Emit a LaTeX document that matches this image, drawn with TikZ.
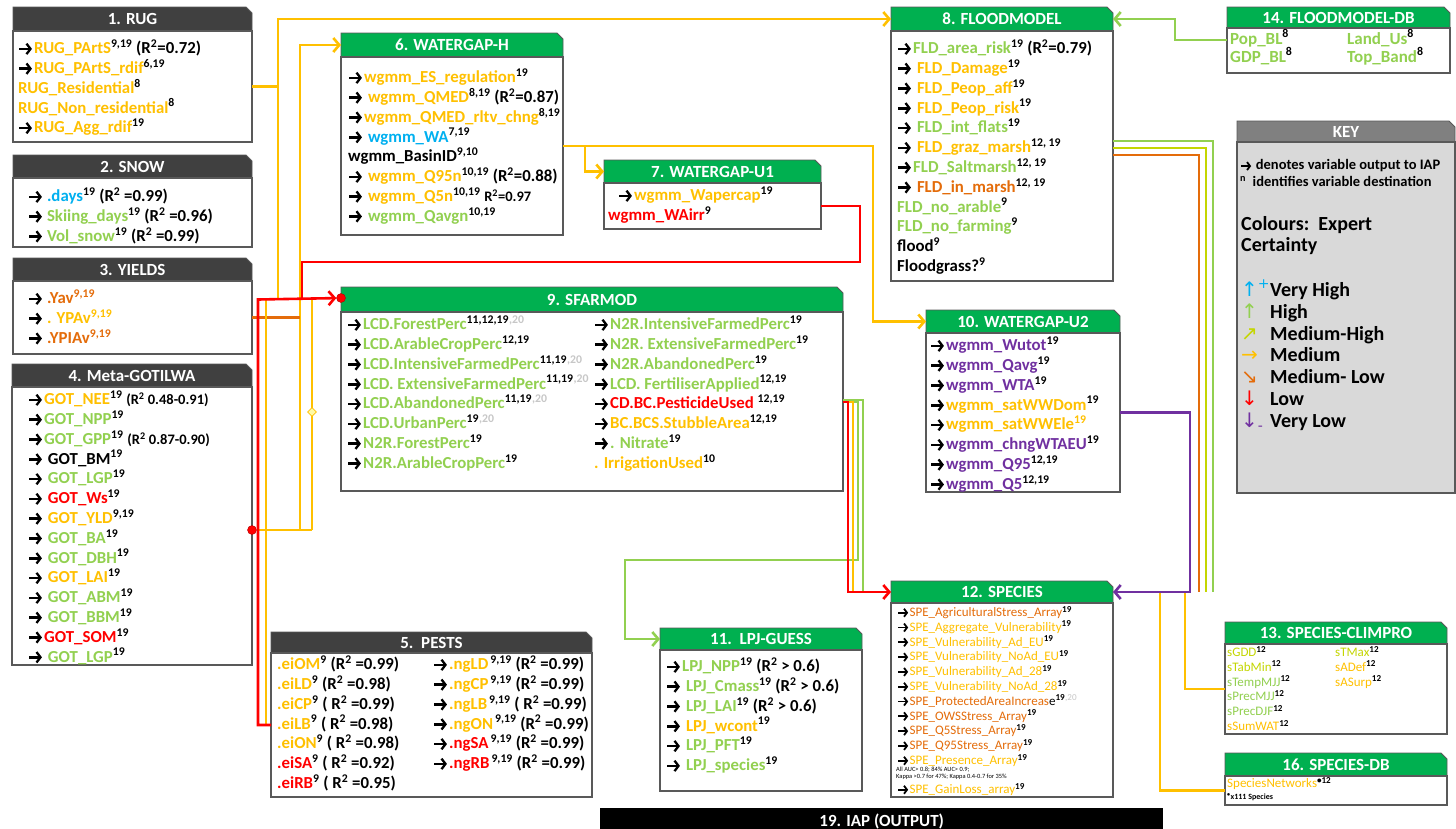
\documentclass[tikz,border=0pt]{standalone}
\usepackage{fontspec}
\setmainfont{Carlito}
\newfontfamily\symfont{DejaVu Sans}
\usetikzlibrary{arrows.meta,positioning,shapes.misc,shapes.geometric}
\definecolor{cvh}{HTML}{00B0F0}
\definecolor{chi}{HTML}{92D050}
\definecolor{cmh}{HTML}{C4D600}
\definecolor{cme}{HTML}{FFC000}
\definecolor{cml}{HTML}{E46C0A}
\definecolor{clo}{HTML}{FF0000}
\definecolor{cvl}{HTML}{7030A0}
\definecolor{ttldark}{HTML}{404040}
\definecolor{ttlgreen}{HTML}{00B050}
\definecolor{keyttl}{HTML}{808080}
\definecolor{keybg}{HTML}{D9D9D9}
\definecolor{frame}{HTML}{595959}
% bold output arrow drawn as a tiny picture
\newcommand{\ra}{\tikz[baseline=-4.8pt]{\draw[black,line width=2.5pt,
  -{Straight Barb[length=4pt,width=10.5pt,line width=2.3pt]}] (0pt,0pt) -- (12.5pt,0pt);}\hspace{1pt}}
\newcommand{\ras}{\tikz[baseline=-3.8pt]{\draw[black,line width=1.9pt,
  -{Straight Barb[length=3pt,width=8pt,line width=1.8pt]}] (0pt,0pt) -- (10pt,0pt);}\hspace{0.5pt}}
\newcommand{\sps}[1]{\textsuperscript{\color{black}#1}}
\newcommand{\spg}[1]{\textsuperscript{\color{black!22}#1}}
\newcommand{\rsq}{R\textsuperscript{2}}
\newcommand{\rsml}[1]{{\fontsize{14.5}{14}\selectfont #1}}
\newcommand{\keyarr}[2]{\makebox[29pt][l]{\symfont\mdseries\textcolor{#1}{#2}}}
\tikzset{
  ttlD/.style={chamfered rectangle,chamfered rectangle corners=north east,
               chamfered rectangle xsep=3pt,chamfered rectangle ysep=3pt,
               anchor=north west,fill=ttldark,draw=frame,line width=0.8pt,
               text=white,font=\fontsize{17}{19}\selectfont\bfseries,
               inner sep=0pt,outer sep=0pt},
  ttlG/.style={ttlD,fill=ttlgreen},
  bodyb/.style={rectangle,anchor=north west,draw=frame,line width=1.2pt,
                fill=white,inner sep=0pt,outer sep=0pt},
  txt/.style={anchor=north west,align=left,inner sep=0pt,
              font=\fontsize{16.8}{19.8}\selectfont\bfseries},
  txts/.style={txt,font=\fontsize{13}{14.8}\selectfont},
  lnk/.style={line width=2.6pt},
  lnkt/.style={line width=1.2pt},
  arr/.style={-{Straight Barb[length=6pt,width=14pt]}},
  jdot/.style={circle,fill=clo,draw=clo!70!black,minimum size=9pt,inner sep=0pt},
}
\begin{document}
\begin{tikzpicture}[x=1pt,y=-1pt]
\useasboundingbox (0,0) rectangle (1456,828);

% ---- model boxes ----
% 1. RUG
\node[ttlD,minimum width=239,minimum height=24] (rug-t) at (13,7) {1. RUG};
\node[bodyb,minimum width=239,minimum height=111] (rug) at (13,31) {};
\node[txt] (rug-v) at (18,39.5) {\ra\textcolor{cme}{RUG\_PArtS}\sps{9,19} (\rsq=0.72)\\
  \ra\textcolor{cme}{RUG\_PArtS\_rdif}\sps{6,19}\\
  \textcolor{cme}{RUG\_Residential}\sps{8}\\
  \textcolor{cme}{RUG\_Non\_residential}\sps{8}\\
  \ra\textcolor{cme}{RUG\_Agg\_rdif}\sps{19}};

% 2. SNOW
\node[ttlD,minimum width=239,minimum height=23] (snow-t) at (13,155) {2. SNOW};
\node[bodyb,minimum width=239,minimum height=69] (snow) at (13,178) {};
\node[txt] (snow-v) at (28,187.5) {\ra\,\textcolor{cvh}{.days}\sps{19} (\rsq{} =0.99)\\
  \ra\,\textcolor{chi}{Skiing\_days}\sps{19} (\rsq{} =0.96)\\
  \ra\,\textcolor{chi}{Vol\_snow}\sps{19} (\rsq{} =0.99)};

% 3. YIELDS
\node[ttlD,minimum width=239,minimum height=23] (yld-t) at (13,258) {3. YIELDS};
\node[bodyb,minimum width=239,minimum height=73] (yld) at (13,281) {};
\node[txt] (yld-v) at (28,289.5) {\ra\,\textcolor{cml}{.Yav\textsuperscript{9,19}}\\
  \ra\,\textcolor{cme}{. YPAv\textsuperscript{9,19}}\\
  \ra\,\textcolor{cml}{.YPIAv\textsuperscript{9,19}}};

% 4. Meta-GOTILWA
\node[ttlD,minimum width=240,minimum height=23] (got-t) at (12,364) {4. Meta-GOTILWA};
\node[bodyb,minimum width=240,minimum height=278] (got) at (12,387) {};
\node[txt] (got-v) at (28,390.5) {\ra\textcolor{cme}{GOT\_NEE}\sps{19} \rsml{(\rsq{} 0.48-0.91)}\\
  \ra\textcolor{chi}{GOT\_NPP}\sps{19}\\
  \ra\textcolor{chi}{GOT\_GPP}\sps{19} \rsml{(\rsq{} 0.87-0.90)}\\
  \ra\ GOT\_BM\sps{19}\\
  \ra\ \textcolor{chi}{GOT\_LGP}\sps{19}\\
  \ra\ \textcolor{clo}{GOT\_Ws}\sps{19}\\
  \ra\ \textcolor{cme}{GOT\_YLD}\sps{9,19}\\
  \ra\ \textcolor{chi}{GOT\_BA}\sps{19}\\
  \ra\ \textcolor{chi}{GOT\_DBH}\sps{19}\\
  \ra\ \textcolor{cme}{GOT\_LAI}\sps{19}\\
  \ra\ \textcolor{chi}{GOT\_ABM}\sps{19}\\
  \ra\ \textcolor{chi}{GOT\_BBM}\sps{19}\\
  \ra\textcolor{clo}{GOT\_SOM}\sps{19}\\
  \ra\ \textcolor{chi}{GOT\_LGP}\sps{19}};

% 5. PESTS
\node[ttlD,minimum width=321,minimum height=21] (pst-t) at (271,632) {5.\ \ PESTS};
\node[bodyb,minimum width=321,minimum height=144] (pst) at (271,653) {};
\node[txt] (pst-v) at (277,655.5) {\textcolor{cme}{.eiOM}\sps{9} (\rsq{} =0.99)\\
  \textcolor{cme}{.eiLD}\sps{9} (\rsq{} =0.98)\\
  \textcolor{cme}{.eiCP}\sps{9} ( \rsq{} =0.99)\\
  \textcolor{cme}{.eiLB}\sps{9} ( \rsq{} =0.98)\\
  \textcolor{cme}{.eiON}\sps{9} ( \rsq{} =0.98)\\
  \textcolor{clo}{.eiSA}\sps{9} ( \rsq{} =0.92)\\
  \textcolor{clo}{.eiRB}\sps{9} ( \rsq{} =0.95)};
\node[txt] (pst-w) at (433,655.5) {\ra\textcolor{cme}{.ngLD}\sps{\,9,19} (\rsq{} =0.99)\\
  \ra\textcolor{cme}{.ngCP}\sps{\,9,19} (\rsq{} =0.99)\\
  \ra\textcolor{cme}{.ngLB}\sps{\,9,19} ( \rsq{} =0.99)\\
  \ra\textcolor{cme}{.ngON}\sps{\,9,19} (\rsq{} =0.99)\\
  \ra\textcolor{clo}{.ngSA}\sps{\,9,19} (\rsq{} =0.99)\\
  \ra\textcolor{clo}{.ngRB}\sps{\,9,19} (\rsq{} =0.99)};

% 6. WATERGAP-H
\node[ttlG,minimum width=222,minimum height=24] (wgh-t) at (341,33) {6. WATERGAP-H};
\node[bodyb,minimum width=222,minimum height=178] (wgh) at (341,57) {};
\node[txt] (wgh-v) at (348,68.5) {\ra\textcolor{cme}{wgmm\_ES\_regulation}\sps{19}\\
  \ra\ \textcolor{cme}{wgmm\_QMED}\sps{8,19} (\rsq=0.87)\\
  \ra\textcolor{cme}{wgmm\_QMED\_rltv\_chng}\sps{8,19}\\
  \ra\ \textcolor{cvh}{wgmm\_WA}\sps{7,19}\\
  wgmm\_BasinID\sps{9,10}\\
  \ra\ \textcolor{cme}{wgmm\_Q95n}\sps{10,19} (\rsq=0.88)\\
  \ra\ \textcolor{cme}{wgmm\_Q5n}\sps{10,19} \rsml{\rsq=0.97}\\
  \ra\ \textcolor{chi}{wgmm\_Qavgn}\sps{10,19}};

% 7. WATERGAP-U1
\node[ttlG,minimum width=217,minimum height=23] (wu1-t) at (604,160) {7. WATERGAP-U1};
\node[bodyb,minimum width=217,minimum height=46] (wu1) at (604,183) {};
\node[txt] (wu1-v) at (608,186.5) {\hspace*{10pt}\ra\textcolor{cme}{wgmm\_Wapercap}\sps{19}\\
  \textcolor{clo}{wgmm\_WAirr}\sps{9}};

% 8. FLOODMODEL
\node[ttlG,minimum width=222,minimum height=24] (fld-t) at (891,7) {8. FLOODMODEL};
\node[bodyb,minimum width=222,minimum height=250] (fld) at (891,31) {};
\node[txt] (fld-v) at (897,39.5) {\ra\textcolor{chi}{FLD\_area\_risk}\sps{19} (\rsq=0.79)\\
  \ra\ \textcolor{cme}{FLD\_Damage}\sps{19}\\
  \ra\ \textcolor{cme}{FLD\_Peop\_aff}\sps{19}\\
  \ra\ \textcolor{cme}{FLD\_Peop\_risk}\sps{19}\\
  \ra\ \textcolor{chi}{FLD\_int\_flats}\sps{19}\\
  \ra\ \textcolor{cme}{FLD\_graz\_marsh}\sps{12, 19}\\
  \ra\textcolor{chi}{FLD\_Saltmarsh}\sps{12, 19}\\
  \ra\ \textcolor{cml}{FLD\_in\_marsh}\sps{12, 19}\\
  \textcolor{chi}{FLD\_no\_arable}\sps{9}\\
  \textcolor{chi}{FLD\_no\_farming}\sps{9}\\
  flood\sps{9}\\
  Floodgrass?\sps{9}};

% 9. SFARMOD
\node[ttlG,minimum width=502,minimum height=25] (sfm-t) at (341,287) {9. SFARMOD};
\node[bodyb,minimum width=502,minimum height=179] (sfm) at (341,312) {};
\node[txt,text=chi] (sfm-v) at (347,315.5) {\ra LCD.ForestPerc\sps{11,12,19}\spg{,20}\\
  \ra LCD.ArableCropPerc\sps{12,19}\\
  \ra LCD.IntensiveFarmedPerc\sps{11,19}\spg{,20}\\
  \ra LCD. ExtensiveFarmedPerc\sps{11,19}\spg{,20}\\
  \ra LCD.AbandonedPerc\sps{11,19}\spg{,20}\\
  \ra LCD.UrbanPerc\sps{19}\spg{,20}\\
  \ra N2R.ForestPerc\sps{19}\\
  \ra N2R.ArableCropPerc\sps{19}};
\node[txt,text=chi] (sfm-w) at (594,315.5) {\ra N2R.IntensiveFarmedPerc\sps{19}\\
  \ra N2R. ExtensiveFarmedPerc\sps{19}\\
  \ra N2R.AbandonedPerc\sps{19}\\
  \ra LCD. FertiliserApplied\sps{12,19}\\
  \ra\textcolor{clo}{CD.BC.PesticideUsed} \sps{12,19}\\
  \ra\textcolor{cme}{BC.BCS.StubbleArea}\sps{12,19}\\
  \ra . Nitrate\sps{19}\\
  \textcolor{cme}{. IrrigationUsed}\sps{10}};

% 10. WATERGAP-U2
\node[ttlG,minimum width=194,minimum height=23] (wu2-t) at (926,310) {10. WATERGAP-U2};
\node[bodyb,minimum width=194,minimum height=159] (wu2) at (926,333) {};
\node[txt,text=cvl] (wu2-v) at (930,336.5) {\ra wgmm\_Wutot\sps{19}\\
  \ra wgmm\_Qavg\sps{19}\\
  \ra wgmm\_WTA\sps{19}\\
  \ra\textcolor{cme}{wgmm\_satWWDom}\sps{19}\\
  \ra\textcolor{cme}{wgmm\_satWWEle\textsuperscript{19}}\\
  \ra wgmm\_chngWTAEU\sps{19}\\
  \ra wgmm\_Q95\sps{12,19}\\
  \ra wgmm\_Q5\sps{12,19}};

% 11. LPJ-GUESS
\node[ttlG,minimum width=202,minimum height=22] (lpj-t) at (660,628) {11.\ \ LPJ-GUESS};
\node[bodyb,minimum width=202,minimum height=141] (lpj) at (660,650) {};
\node[txt] (lpj-v) at (666,657.5) {\ra\textcolor{chi}{LPJ\_NPP}\sps{19} (\rsq{} > 0.6)\\
  \ra\ \textcolor{chi}{LPJ\_Cmass}\sps{19} (\rsq{} > 0.6)\\
  \ra\ \textcolor{chi}{LPJ\_LAI}\sps{19} (\rsq{} > 0.6)\\
  \ra\ \textcolor{cme}{LPJ\_wcont}\sps{19}\\
  \ra\ \textcolor{chi}{LPJ\_PFT}\sps{19}\\
  \ra\ \textcolor{chi}{LPJ\_species}\sps{19}};

% 12. SPECIES
\node[ttlG,minimum width=222,minimum height=22] (spe-t) at (891,581) {12. SPECIES};
\node[bodyb,minimum width=222,minimum height=194] (spe) at (891,603) {};
\node[txts] (spe-v) at (897,606) {\ras\textcolor{cml}{SPE\_AgriculturalStress\_Array}\sps{\bfseries 19}\\
  \ras\textcolor{cme}{SPE\_Aggregate\_Vulnerability}\sps{\bfseries 19}\\
  \ras\textcolor{cme}{SPE\_Vulnerability\_Ad\_EU}\sps{\bfseries 19}\\
  \ras\textcolor{cme}{SPE\_Vulnerability\_NoAd\_EU}\sps{\bfseries 19}\\
  \ras\textcolor{cme}{SPE\_Vulnerability\_Ad\_28}\sps{\bfseries 19}\\
  \ras\textcolor{cme}{SPE\_Vulnerability\_NoAd\_28}\sps{\bfseries 19}\\
  \ras\textcolor{cml}{SPE\_ProtectedAreaIncreas}e\sps{\bfseries 19}\spg{,20}\\
  \ras\textcolor{cml}{SPE\_OWSStress\_Array}\sps{\bfseries 19}\\
  \ras\textcolor{cml}{SPE\_Q5Stress\_Array}\sps{\bfseries 19}\\
  \ras\textcolor{cml}{SPE\_Q95Stress\_Array}\sps{\bfseries 19}\\
  \ras\textcolor{cme}{SPE\_Presence\_Array}\sps{\bfseries 19}};
\node[txt,font=\fontsize{6.4}{7}\selectfont] (spe-n) at (896,767) {All AUC> 0.8; 84\% AUC> 0.9;\\
  Kappa >0.7 for 47\%; Kappa 0.4-0.7 for 35\%};
\node[txts] (spe-g) at (897,783) {\ras\textcolor{cme}{SPE\_GainLoss\_array}\sps{\bfseries 19}};

% 13. SPECIES-CLIMPRO
\node[ttlG,minimum width=222,minimum height=22] (scp-t) at (1225,622) {13. SPECIES-CLIMPRO};
\node[bodyb,minimum width=222,minimum height=90] (scp) at (1225,644) {};
\node[txts] (scp-v) at (1227,646) {\textcolor{cmh}{sGDD}\sps{\bfseries 12}\\
  \textcolor{cmh}{sTabMin}\sps{\bfseries 12}\\
  \textcolor{chi}{sTempMJJ}\sps{\bfseries 12}\\
  \textcolor{chi}{sPrecMJJ}\sps{\bfseries 12}\\
  \textcolor{chi}{sPrecDJF}\sps{\bfseries 12}\\
  \textcolor{cme}{sSumWAT}\sps{\bfseries 12}};
\node[txts] (scp-w) at (1335,646) {\textcolor{cmh}{sTMax}\sps{\bfseries 12}\\
  \textcolor{cme}{sADef}\sps{\bfseries 12}\\
  \textcolor{cme}{sASurp}\sps{\bfseries 12}};

% 16. SPECIES-DB
\node[ttlG,minimum width=222,minimum height=23] (sdb-t) at (1225,753) {16. SPECIES-DB};
\node[bodyb,minimum width=222,minimum height=29] (sdb) at (1225,776) {};
\node[txts] (sdb-v) at (1227,777) {\textcolor{cme}{SpeciesNetworks}\sps{\bfseries •12}};
\node[txt,font=\fontsize{8}{8}\selectfont\bfseries] (sdb-n) at (1227,793.5) {\textsuperscript{•}x111 Species};

% 14. FLOODMODEL-DB
\node[ttlG,minimum width=223,minimum height=21] (fdb-t) at (1227,7) {14. FLOODMODEL-DB};
\node[bodyb,minimum width=223,minimum height=45] (fdb) at (1227,28) {};
\node[txt,font=\fontsize{17}{18}\selectfont\bfseries,text=chi] (fdb-v) at (1230,29.5) {Pop\_BL\sps{8}\\ GDP\_BL\sps{8}};
\node[txt,font=\fontsize{17}{18}\selectfont\bfseries,text=chi] (fdb-w) at (1347,29.5) {Land\_Us\sps{8}\\ Top\_Band\sps{8}};

% KEY
\node[ttlD,fill=keyttl,minimum width=218,minimum height=21] (key-t) at (1237,121) {KEY};
\node[bodyb,fill=keybg,minimum width=218,minimum height=351] (key) at (1237,142) {};
\node[txt,font=\fontsize{14.5}{17}\selectfont\bfseries] (key-a) at (1240,159.5) {\ras\ denotes variable output to IAP\\
  \textsuperscript{n}\ \ identifies variable destination};
\node[txt,font=\fontsize{20}{20.7}\selectfont\bfseries] (key-c) at (1241,216.5) {Colours:\ \ Expert\\ Certainty};
\node[txt,font=\fontsize{20}{21.8}\selectfont\bfseries] (key-l) at (1241,280) {\keyarr{cvh}{↑\textsuperscript{+}}Very High\\
  \keyarr{chi}{↑}High\\
  \keyarr{cmh}{↗}Medium-High\\
  \keyarr{cme}{→}Medium\\
  \keyarr{cml}{↘}Medium-\ Low\\
  \keyarr{clo}{↓}Low\\
  \keyarr{cvl}{↓\textsubscript{-}}Very Low};

% 19. IAP
\node[fill=black,text=white,font=\fontsize{17}{19}\selectfont\bfseries,anchor=north west,
      minimum width=563,minimum height=24,inner sep=0pt,text depth=0pt] (iap) at (600,808) {19. IAP (OUTPUT)};

% ---- joints ----
\node[jdot] (gdot) at (252,530) {};
\node[jdot] (sdot) at (341,298) {};
\coordinate (cj) at (312,530);

% ---- connectors ----
\draw[lnk,cme,arr] (rug.east) -| (278,19) -- (fld-t.west);
\draw[lnk,cme] (278,86.5) -- (278,299.5);
\draw[lnk,cme,arr] (gdot) -| (300,45) -- (wgh-t.west);
\draw[lnk,cme] (gdot) -- (cj);
\draw[lnkt,cme] (cj) -- (312,299.5);
\draw[lnk,cml] (yld.east) -- (300,317.5);
\draw[lnk,cme] (pst.west) -| (266,299.5);
\draw[lnk,clo,arr] (pst.west) -| (258,299.5) -- (sdot);
\draw[lnk,clo] (wu1.east) -| (860,262) -| (302,299.5);
\draw[lnk,cme,arr] (wgh.east) -| (585,171.5) -- (wu1-t.west);
\draw[lnk,cme,arr] (585,146) -| (873,321.5) -- (wu2-t.west);
\draw[lnk,chi,arr] ([yshift=-12pt]fdb.north west) -| (1175,19) -- (fld-t.east);
\draw[lnk,chi] ([yshift=-88pt]sfm.north east) -| (863,592);
\draw[lnk,chi,arr] ([yshift=-90pt]sfm.north east) -| (858,560) -| (625,639) -- (lpj-t.west);
\draw[lnk,cme] ([yshift=-90pt]sfm.north east) -| (853,592);
\draw[lnk,clo,arr] ([yshift=-90pt]sfm.north east) -| (848,592) -- (spe-t.west);
\draw[lnk,chi] ([yshift=-110pt]fld.north east) -| (1213,592);
\draw[lnk,cmh] ([yshift=-117pt]fld.north east) -| (1206,592);
\draw[lnk,cml] ([yshift=-124pt]fld.north east) -| (1199,592);
\draw[lnk,cme] (scp.west) -| (1185,592);
\draw[lnk,cme] (sdb.west) -| (1160,592);
\draw[lnk,cvl,arr] (wu2.east) -| (1190,592) -- (spe-t.east);
\node[diamond,draw=cme,fill=yellow!35,line width=0.8pt,minimum size=9pt,inner sep=0pt] (dia) at (312,412) {};
\end{tikzpicture}
\end{document}
